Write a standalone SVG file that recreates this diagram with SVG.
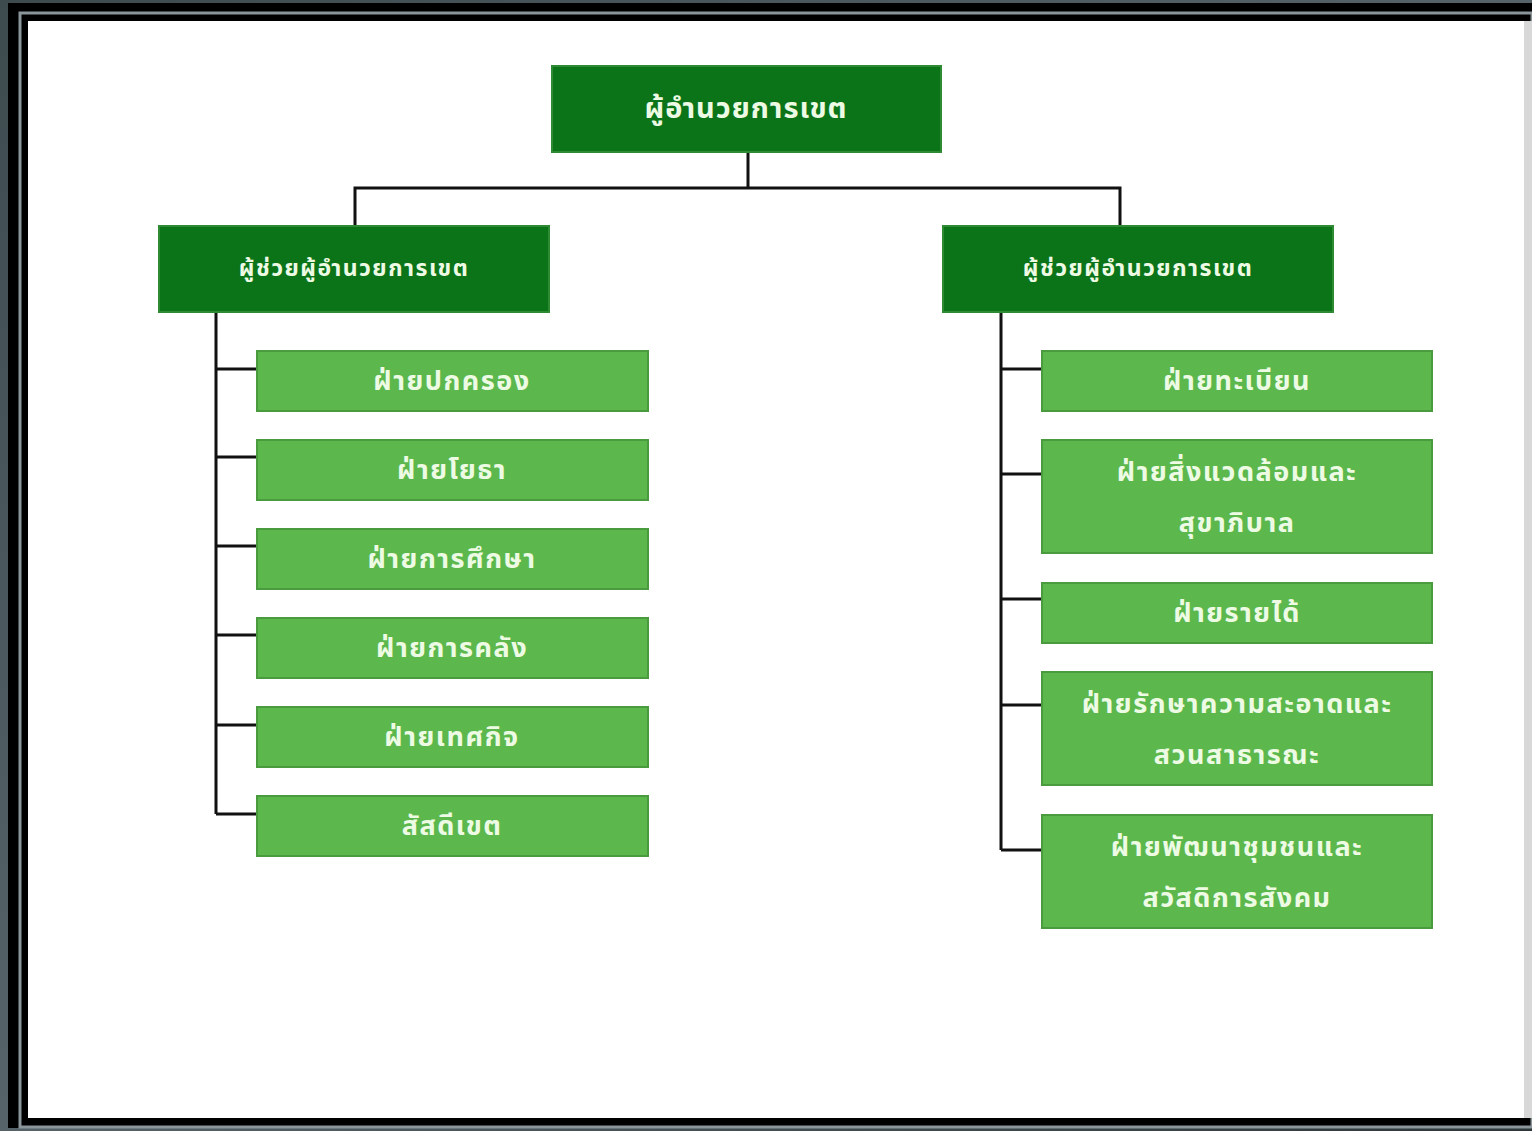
<svg xmlns="http://www.w3.org/2000/svg" width="1532" height="1131" viewBox="0 0 1532 1131">
<style>
.top{fill:#0b7419;stroke:#2f8a34;stroke-width:2}
.sub{fill:#5cb84d;stroke:#4a9a3e;stroke-width:2}
.t{font-family:"Noto Sans Thai","Noto Sans","DejaVu Sans",sans-serif;fill:#eefbe4;text-anchor:middle;dominant-baseline:central;font-weight:bold}
.big{font-size:29px;letter-spacing:1px}
.mid{font-size:23px;letter-spacing:1.5px}
.sm{font-size:27px;letter-spacing:1.5px}
.ln{stroke:#111;stroke-width:3;fill:none}
</style>
<defs>
<linearGradient id="bg" x1="0" y1="0" x2="1" y2="1">
<stop offset="0" stop-color="#3d4a4e"/><stop offset="0.5" stop-color="#56646a"/><stop offset="1" stop-color="#2e383b"/>
</linearGradient>
</defs>
<rect x="0" y="0" width="1532" height="1131" fill="url(#bg)"/>
<rect x="8" y="3" width="1524" height="1125" fill="#000"/>
<rect x="20" y="13" width="1512" height="1114" fill="none" stroke="#8a969a" stroke-width="3"/>
<rect x="28" y="21" width="1500" height="1097" fill="#fff"/>
<rect x="1524" y="21" width="8" height="1097" fill="#d8d8d8"/>
<g id="connectors">
<path class="ln" d="M748 152V188M355 226V188H1120V226"/>
<path class="ln" d="M216 312V814M216 369H258M216 457H258M216 546H258M216 635H258M216 725H258M216 814H258"/>
<path class="ln" d="M1001 312V850M1001 369H1042M1001 474H1042M1001 599H1042M1001 705H1042M1001 850H1042"/>
</g>
<g id="director"><rect class="top" x="552" y="66" width="389" height="86"/><text class="t big" x="746" y="109">ผู้อำนวยการเขต</text></g>
<g id="deputy-left"><rect class="top" x="159" y="226" width="390" height="86"/><text class="t mid" x="354" y="269">ผู้ช่วยผู้อำนวยการเขต</text></g>
<g id="deputy-right"><rect class="top" x="943" y="226" width="390" height="86"/><text class="t mid" x="1138" y="269">ผู้ช่วยผู้อำนวยการเขต</text></g>
<g id="l1"><rect class="sub" x="257" y="351" width="391" height="60"/><text class="t sm" x="452" y="381">ฝ่ายปกครอง</text></g>
<g id="l2"><rect class="sub" x="257" y="440" width="391" height="60"/><text class="t sm" x="452" y="470">ฝ่ายโยธา</text></g>
<g id="l3"><rect class="sub" x="257" y="529" width="391" height="60"/><text class="t sm" x="452" y="559">ฝ่ายการศึกษา</text></g>
<g id="l4"><rect class="sub" x="257" y="618" width="391" height="60"/><text class="t sm" x="452" y="648">ฝ่ายการคลัง</text></g>
<g id="l5"><rect class="sub" x="257" y="707" width="391" height="60"/><text class="t sm" x="452" y="737">ฝ่ายเทศกิจ</text></g>
<g id="l6"><rect class="sub" x="257" y="796" width="391" height="60"/><text class="t sm" x="452" y="826">สัสดีเขต</text></g>
<g id="r1"><rect class="sub" x="1042" y="351" width="390" height="60"/><text class="t sm" x="1237" y="381">ฝ่ายทะเบียน</text></g>
<g id="r2"><rect class="sub" x="1042" y="440" width="390" height="113"/><text class="t sm" x="1237" y="472">ฝ่ายสิ่งแวดล้อมและ</text><text class="t sm" x="1237" y="523">สุขาภิบาล</text></g>
<g id="r3"><rect class="sub" x="1042" y="583" width="390" height="60"/><text class="t sm" x="1237" y="613">ฝ่ายรายได้</text></g>
<g id="r4"><rect class="sub" x="1042" y="672" width="390" height="113"/><text class="t sm" x="1237" y="704">ฝ่ายรักษาความสะอาดและ</text><text class="t sm" x="1237" y="755">สวนสาธารณะ</text></g>
<g id="r5"><rect class="sub" x="1042" y="815" width="390" height="113"/><text class="t sm" x="1237" y="847">ฝ่ายพัฒนาชุมชนและ</text><text class="t sm" x="1237" y="898">สวัสดิการสังคม</text></g>
</svg>
